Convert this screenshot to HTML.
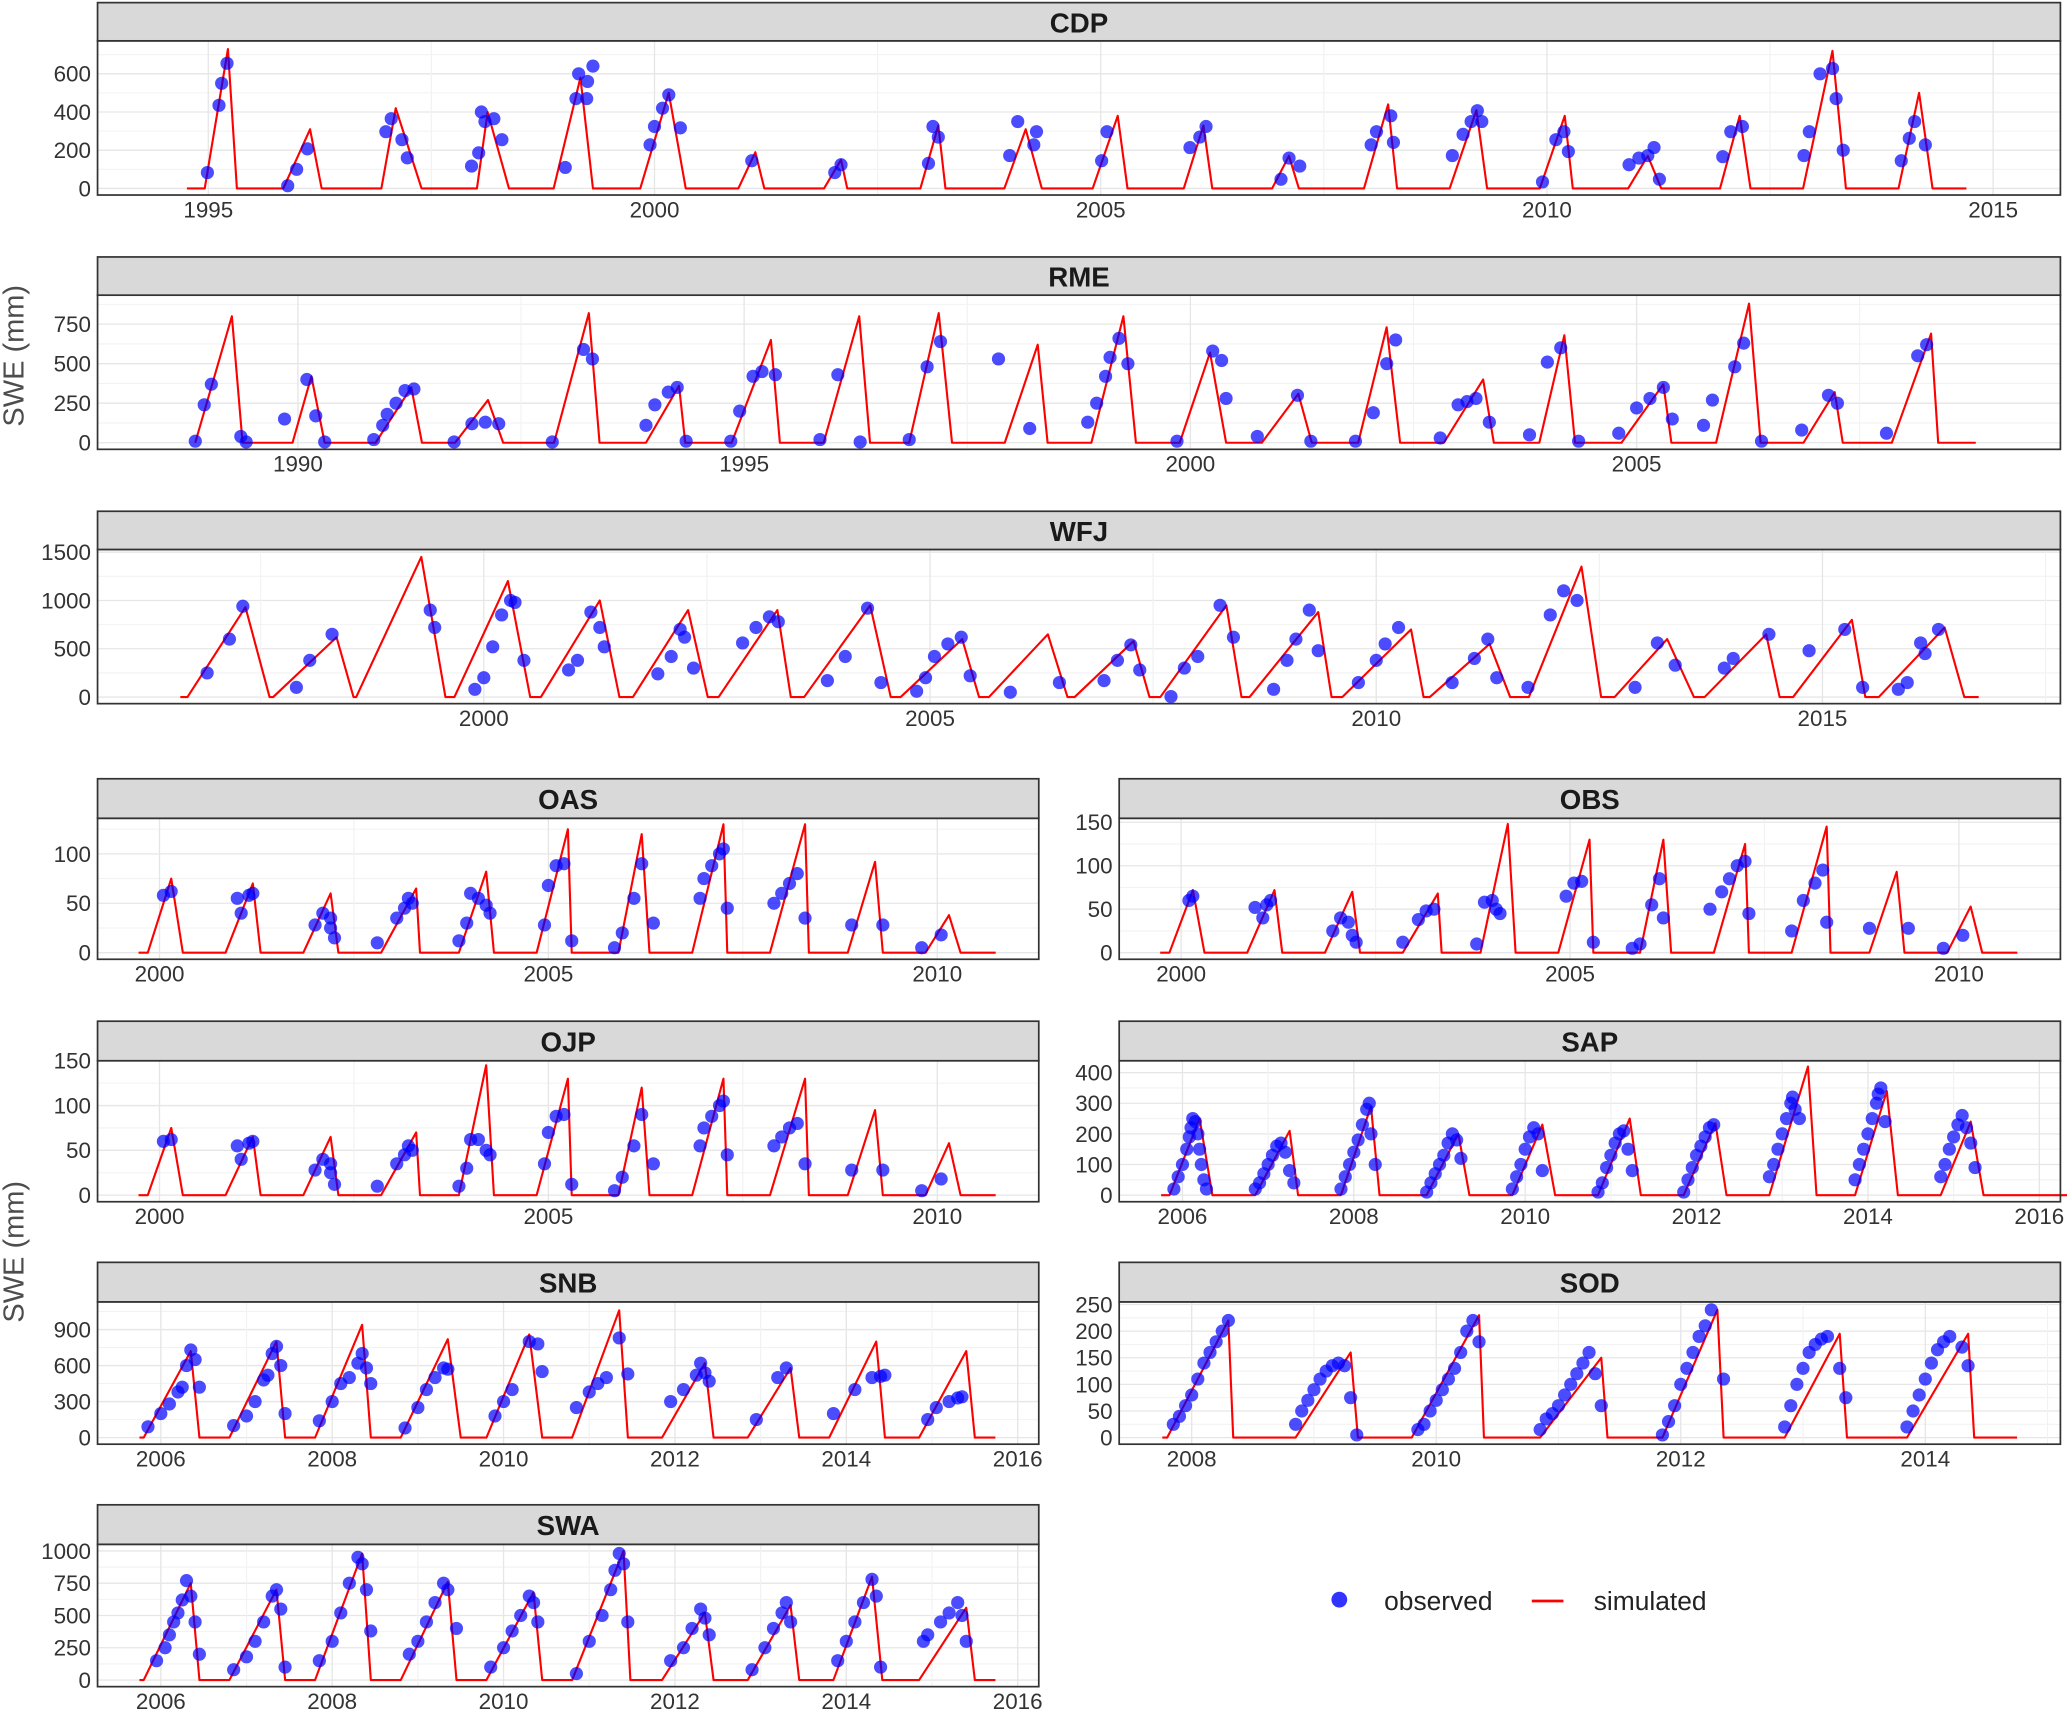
<!DOCTYPE html>
<html><head><meta charset="utf-8">
<style>
html,body{margin:0;padding:0;background:#fff;}
svg{display:block;font-family:"Liberation Sans",Arial,sans-serif;}
</style></head>
<body>
<svg id="chart" width="2067" height="1713" viewBox="0 0 1568 1300" preserveAspectRatio="none" xmlns="http://www.w3.org/2000/svg">
<text x="0" y="0" transform="translate(18,270) rotate(-90)" text-anchor="middle" font-size="22" fill="#4d4d4d">SWE (mm)</text>
<text x="0" y="0" transform="translate(18,950) rotate(-90)" text-anchor="middle" font-size="22" fill="#4d4d4d">SWE (mm)</text>
<g>
<circle cx="1016" cy="1214" r="6" fill="#0000ff" fill-opacity="0.8"/>
<text x="1050" y="1222" font-size="20" fill="#222">observed</text>
<line x1="1162" y1="1215" x2="1186" y2="1215" stroke="#ff0000" stroke-width="2"/>
<text x="1209" y="1222" font-size="20" fill="#222">simulated</text>
</g>
</svg>
<script>
// ---------- DATA ----------
// season knots: [startYear, peakYear, peakSWE, endYear]
const cdpSim=[[1994.96,1995.22,730,1995.32],[1995.84,1996.14,310,1996.27],[1996.94,1997.10,420,1997.39],[1998.01,1998.13,400,1998.37],[1998.87,1999.17,580,1999.31],[1999.84,2000.16,500,2000.35],[2000.94,2001.13,190,2001.23],[2001.90,2002.09,150,2002.16],[2002.98,2003.18,330,2003.26],[2003.92,2004.16,310,2004.34],[2004.91,2005.19,380,2005.30],[2005.93,2006.15,330,2006.25],[2006.92,2007.11,170,2007.22],[2007.95,2008.22,440,2008.32],[2008.91,2009.21,410,2009.33],[2009.92,2010.20,380,2010.29],[2010.91,2011.13,170,2011.28],[2011.94,2012.16,380,2012.28],[2012.87,2013.20,720,2013.35],[2013.94,2014.17,500,2014.32]];
const cdpObs=[[1994.99,83],[1995.12,435],[1995.15,550],[1995.21,655],[1995.89,14],[1995.99,100],[1996.11,207],[1996.99,297],[1997.05,365],[1997.17,255],[1997.23,160],[1997.95,117],[1998.03,186],[1998.06,400],[1998.1,350],[1998.2,365],[1998.29,255],[1999.0,110],[1999.12,470],[1999.15,600],[1999.24,470],[1999.25,560],[1999.31,640],[1999.95,228],[2000.0,324],[2000.09,420],[2000.16,490],[2000.29,317],[2001.09,145],[2002.02,83],[2002.09,124],[2003.07,131],[2003.12,324],[2003.18,269],[2003.98,172],[2004.07,350],[2004.25,228],[2004.28,297],[2005.01,145],[2005.07,297],[2006.0,214],[2006.11,269],[2006.18,324],[2007.02,48],[2007.11,159],[2007.23,117],[2008.03,228],[2008.09,297],[2008.25,380],[2008.28,241],[2008.94,172],[2009.06,283],[2009.15,350],[2009.22,407],[2009.27,350],[2009.95,34],[2010.1,255],[2010.19,297],[2010.24,193],[2010.92,124],[2011.03,159],[2011.13,172],[2011.2,214],[2011.26,48],[2011.97,166],[2012.06,297],[2012.19,324],[2012.88,172],[2012.94,297],[2013.06,600],[2013.2,628],[2013.24,470],[2013.32,200],[2013.97,145],[2014.06,262],[2014.12,350],[2014.24,228]];
const cdpRange=[1994.76,2014.7];

const rmeSim=[[1988.85,1989.26,800,1989.38],[1989.94,1990.15,420,1990.3],[1990.87,1991.27,350,1991.39],[1991.76,1992.13,270,1992.3],[1992.87,1993.26,820,1993.38],[1993.9,1994.27,360,1994.34],[1994.86,1995.3,650,1995.4],[1995.89,1996.29,800,1996.41],[1996.85,1997.18,820,1997.33],[1997.92,1998.29,620,1998.4],[1998.89,1999.25,800,1999.39],[1999.88,2000.22,570,2000.4],[2000.8,2001.21,310,2001.36],[2001.88,2002.2,730,2002.35],[2002.84,2003.28,400,2003.4],[2003.91,2004.19,680,2004.31],[2004.83,2005.3,370,2005.39],[2005.89,2006.26,880,2006.39],[2006.87,2007.22,320,2007.31],[2007.86,2008.3,690,2008.38]];
const rmeObs=[[1988.85,10],[1988.95,240],[1989.03,370],[1989.36,40],[1989.42,5],[1989.85,150],[1990.1,400],[1990.2,170],[1990.3,5],[1990.85,20],[1990.95,110],[1991.0,180],[1991.1,250],[1991.2,330],[1991.3,340],[1991.75,5],[1991.95,120],[1992.1,130],[1992.25,120],[1992.85,5],[1993.2,590],[1993.3,530],[1993.9,110],[1994.0,240],[1994.15,320],[1994.25,350],[1994.35,10],[1994.85,10],[1994.95,200],[1995.1,420],[1995.2,450],[1995.35,430],[1995.85,20],[1996.05,430],[1996.3,5],[1996.85,20],[1997.05,480],[1997.2,640],[1997.85,530],[1998.2,90],[1998.85,130],[1998.95,250],[1999.05,420],[1999.1,540],[1999.2,660],[1999.3,500],[1999.85,10],[2000.25,580],[2000.35,520],[2000.4,280],[2000.75,40],[2001.2,300],[2001.35,10],[2001.85,10],[2002.05,190],[2002.2,500],[2002.3,650],[2002.8,30],[2003.0,240],[2003.1,260],[2003.2,280],[2003.35,130],[2003.8,50],[2004.0,510],[2004.15,600],[2004.35,10],[2004.8,60],[2005.0,220],[2005.15,280],[2005.3,350],[2005.4,150],[2005.75,110],[2005.85,270],[2006.1,480],[2006.2,630],[2006.4,10],[2006.85,80],[2007.15,300],[2007.25,250],[2007.8,60],[2008.15,550],[2008.25,620]];
const rmeRange=[1988.85,2008.8];

const wfjSim=[[1996.68,1997.33,930,1997.6],[1997.64,1998.35,620,1998.54],[1998.57,1999.3,1450,1999.57],[1999.67,2000.27,1200,2000.52],[2000.64,2001.3,1000,2001.52],[2001.67,2002.29,900,2002.51],[2002.63,2003.29,900,2003.44],[2003.59,2004.33,950,2004.56],[2004.67,2005.36,600,2005.55],[2005.66,2006.32,650,2006.54],[2006.62,2007.28,580,2007.46],[2007.58,2008.32,950,2008.49],[2008.58,2009.35,880,2009.5],[2009.62,2010.39,700,2010.53],[2010.6,2011.27,550,2011.5],[2011.71,2012.3,1350,2012.52],[2012.67,2013.26,600,2013.56],[2013.68,2014.37,650,2014.52],[2014.67,2015.33,800,2015.48],[2015.63,2016.37,720,2016.59]];
const wfjObs=[[1996.9,250],[1997.15,600],[1997.3,940],[1997.9,100],[1998.05,380],[1998.3,650],[1999.4,900],[1999.45,720],[1999.9,80],[2000.0,200],[2000.1,520],[2000.2,850],[2000.3,1000],[2000.35,980],[2000.45,380],[2000.95,280],[2001.05,380],[2001.2,880],[2001.3,720],[2001.35,520],[2001.95,240],[2002.1,420],[2002.2,700],[2002.25,620],[2002.35,300],[2002.9,560],[2003.05,720],[2003.2,830],[2003.3,780],[2003.85,170],[2004.05,420],[2004.3,920],[2004.45,150],[2004.85,60],[2004.95,200],[2005.05,420],[2005.2,550],[2005.35,620],[2005.45,220],[2005.9,50],[2006.45,150],[2006.95,170],[2007.1,380],[2007.25,540],[2007.35,280],[2007.7,5],[2007.85,300],[2008.0,420],[2008.25,950],[2008.4,620],[2008.85,80],[2009.0,380],[2009.1,600],[2009.25,900],[2009.35,480],[2009.8,150],[2010.0,380],[2010.1,550],[2010.25,720],[2010.85,150],[2011.1,400],[2011.25,600],[2011.35,200],[2011.7,100],[2011.95,850],[2012.1,1100],[2012.25,1000],[2012.9,100],[2013.15,560],[2013.35,330],[2013.9,300],[2014.0,400],[2014.4,650],[2014.85,480],[2015.25,700],[2015.45,100],[2015.85,80],[2015.95,150],[2016.1,560],[2016.15,450],[2016.3,700]];
const wfjRange=[1996.6,2016.75];

const oasSim=[[1999.85,2000.15,75,2000.3],[2000.85,2001.2,70,2001.3],[2001.85,2002.2,60,2002.3],[2002.85,2003.3,65,2003.35],[2003.85,2004.2,82,2004.3],[2004.85,2005.25,125,2005.3],[2005.9,2006.2,120,2006.3],[2006.85,2007.25,130,2007.3],[2007.85,2008.3,130,2008.35],[2008.85,2009.2,92,2009.3],[2009.85,2010.15,38,2010.3]];
const oasObs=[[2000.05,58],[2000.15,62],[2001.0,55],[2001.05,40],[2001.15,58],[2001.2,60],[2002.0,28],[2002.1,40],[2002.2,35],[2002.2,25],[2002.25,15],[2002.8,10],[2003.05,35],[2003.15,45],[2003.2,55],[2003.25,50],[2003.85,12],[2003.95,30],[2004.0,60],[2004.1,55],[2004.2,48],[2004.25,40],[2004.95,28],[2005.0,68],[2005.1,88],[2005.2,90],[2005.3,12],[2005.85,5],[2005.95,20],[2006.1,55],[2006.2,90],[2006.35,30],[2006.95,55],[2007.0,75],[2007.1,88],[2007.2,100],[2007.25,105],[2007.3,45],[2007.9,50],[2008.0,60],[2008.1,70],[2008.2,80],[2008.3,35],[2008.9,28],[2009.3,28],[2009.8,5],[2010.05,18]];
const oasRange=[1999.73,2010.75];

const obsSim=[[1999.85,2000.15,72,2000.3],[2000.85,2001.2,72,2001.3],[2001.85,2002.2,70,2002.3],[2002.85,2003.3,68,2003.35],[2003.85,2004.2,148,2004.3],[2004.85,2005.25,130,2005.3],[2005.9,2006.2,130,2006.3],[2006.85,2007.25,125,2007.3],[2007.85,2008.3,145,2008.35],[2008.85,2009.2,93,2009.3],[2009.85,2010.15,53,2010.3]];
const obsObs=[[2000.1,60],[2000.15,65],[2000.95,52],[2001.05,40],[2001.1,55],[2001.15,60],[2001.95,25],[2002.05,40],[2002.15,35],[2002.2,20],[2002.25,12],[2002.85,12],[2003.05,38],[2003.15,48],[2003.25,50],[2003.8,10],[2003.9,58],[2004.0,60],[2004.05,50],[2004.1,45],[2004.95,65],[2005.05,80],[2005.15,82],[2005.3,12],[2005.8,5],[2005.9,10],[2006.05,55],[2006.15,85],[2006.2,40],[2006.8,50],[2006.95,70],[2007.05,85],[2007.15,100],[2007.25,105],[2007.3,45],[2007.85,25],[2008.0,60],[2008.15,80],[2008.25,95],[2008.3,35],[2008.85,28],[2009.35,28],[2009.8,5],[2010.05,20]];
const obsRange=[1999.73,2010.75];

const ojpSim=[[1999.85,2000.15,75,2000.3],[2000.85,2001.2,65,2001.3],[2001.85,2002.2,65,2002.3],[2002.85,2003.3,70,2003.35],[2003.85,2004.2,145,2004.3],[2004.85,2005.25,130,2005.3],[2005.9,2006.2,120,2006.3],[2006.85,2007.25,130,2007.3],[2007.85,2008.3,130,2008.35],[2008.85,2009.2,95,2009.3],[2009.85,2010.15,58,2010.3]];
const ojpObs=[[2000.05,60],[2000.15,62],[2001.0,55],[2001.05,40],[2001.15,58],[2001.2,60],[2002.0,28],[2002.1,40],[2002.2,35],[2002.2,25],[2002.25,12],[2002.8,10],[2003.05,35],[2003.15,45],[2003.2,55],[2003.25,50],[2003.85,10],[2003.95,30],[2004.0,62],[2004.1,62],[2004.2,50],[2004.25,45],[2004.95,35],[2005.0,70],[2005.1,88],[2005.2,90],[2005.3,12],[2005.85,5],[2005.95,20],[2006.1,55],[2006.2,90],[2006.35,35],[2006.95,55],[2007.0,75],[2007.1,88],[2007.2,100],[2007.25,105],[2007.3,45],[2007.9,55],[2008.0,65],[2008.1,75],[2008.2,80],[2008.3,35],[2008.9,28],[2009.3,28],[2009.8,5],[2010.05,18]];
const ojpRange=[1999.73,2010.75];

const sapSim=[[2005.85,2006.2,250,2006.35],[2006.85,2007.25,210,2007.35],[2007.85,2008.2,290,2008.3],[2008.85,2009.22,200,2009.35],[2009.85,2010.2,230,2010.35],[2010.85,2011.22,250,2011.35],[2011.85,2012.22,235,2012.35],[2012.85,2013.3,420,2013.4],[2013.85,2014.22,340,2014.35],[2014.85,2015.2,240,2015.35]];
const sapObs=[[2005.9,20],[2005.95,60],[2006.0,100],[2006.05,150],[2006.08,190],[2006.1,220],[2006.12,250],[2006.15,240],[2006.18,200],[2006.2,150],[2006.22,100],[2006.25,50],[2006.28,20],[2006.85,20],[2006.9,40],[2006.95,70],[2007.0,100],[2007.05,130],[2007.1,160],[2007.15,170],[2007.2,140],[2007.25,80],[2007.3,40],[2007.85,20],[2007.9,60],[2007.95,100],[2008.0,140],[2008.05,180],[2008.1,230],[2008.15,280],[2008.18,300],[2008.2,200],[2008.25,100],[2008.85,10],[2008.9,40],[2008.95,70],[2009.0,100],[2009.05,130],[2009.1,170],[2009.15,200],[2009.2,180],[2009.25,120],[2009.85,20],[2009.9,60],[2009.95,100],[2010.0,150],[2010.05,190],[2010.1,220],[2010.15,200],[2010.2,80],[2010.85,10],[2010.9,40],[2010.95,90],[2011.0,130],[2011.05,170],[2011.1,200],[2011.15,210],[2011.2,150],[2011.25,80],[2011.85,10],[2011.9,50],[2011.95,90],[2012.0,130],[2012.05,160],[2012.1,190],[2012.15,220],[2012.2,230],[2012.85,60],[2012.9,100],[2012.95,150],[2013.0,200],[2013.05,250],[2013.1,300],[2013.12,320],[2013.15,280],[2013.2,250],[2013.85,50],[2013.9,100],[2013.95,150],[2014.0,200],[2014.05,250],[2014.1,300],[2014.12,330],[2014.15,350],[2014.2,240],[2014.85,60],[2014.9,100],[2014.95,150],[2015.0,190],[2015.05,230],[2015.1,260],[2015.15,220],[2015.2,170],[2015.25,90]];
const sapRange=[2005.75,2016.7];

const snbSim=[[2005.8,2006.35,720,2006.45],[2006.8,2007.35,800,2007.45],[2007.8,2008.35,940,2008.45],[2008.8,2009.35,820,2009.5],[2009.8,2010.3,860,2010.45],[2010.8,2011.35,1060,2011.45],[2011.85,2012.35,620,2012.45],[2012.85,2013.35,580,2013.45],[2013.8,2014.35,800,2014.45],[2014.85,2015.4,720,2015.5]];
const snbObs=[[2005.85,90],[2006.0,200],[2006.1,280],[2006.2,380],[2006.25,420],[2006.3,600],[2006.35,730],[2006.4,650],[2006.45,420],[2006.85,100],[2007.0,180],[2007.1,300],[2007.2,480],[2007.25,520],[2007.3,700],[2007.35,760],[2007.4,600],[2007.45,200],[2007.85,140],[2008.0,300],[2008.1,450],[2008.2,500],[2008.3,620],[2008.35,700],[2008.4,580],[2008.45,450],[2008.85,80],[2009.0,250],[2009.1,400],[2009.2,500],[2009.3,580],[2009.35,570],[2009.9,180],[2010.0,300],[2010.1,400],[2010.3,800],[2010.4,780],[2010.45,550],[2010.85,250],[2011.0,380],[2011.1,450],[2011.2,500],[2011.35,830],[2011.45,530],[2011.95,300],[2012.1,400],[2012.25,520],[2012.3,620],[2012.35,540],[2012.4,470],[2012.95,150],[2013.2,500],[2013.3,580],[2013.85,200],[2014.1,400],[2014.3,500],[2014.4,510],[2014.45,520],[2014.95,150],[2015.05,250],[2015.2,300],[2015.3,330],[2015.35,340]];
const snbRange=[2005.75,2015.74];

const sodSim=[[2007.8,2008.3,220,2008.34],[2008.85,2009.3,160,2009.36],[2009.8,2010.35,230,2010.39],[2010.85,2011.35,150,2011.4],[2011.85,2012.3,240,2012.35],[2012.85,2013.3,195,2013.36],[2013.85,2014.35,195,2014.4]];
const sodObs=[[2007.85,25],[2007.9,40],[2007.95,60],[2008.0,80],[2008.05,110],[2008.1,140],[2008.15,160],[2008.2,180],[2008.25,200],[2008.3,220],[2008.85,25],[2008.9,50],[2008.95,70],[2009.0,90],[2009.05,110],[2009.1,125],[2009.15,135],[2009.2,140],[2009.25,135],[2009.3,75],[2009.35,5],[2009.85,15],[2009.9,25],[2009.95,50],[2010.0,70],[2010.05,90],[2010.1,110],[2010.15,130],[2010.2,160],[2010.25,200],[2010.3,220],[2010.35,180],[2010.85,15],[2010.9,35],[2010.95,45],[2011.0,60],[2011.05,80],[2011.1,100],[2011.15,120],[2011.2,140],[2011.25,160],[2011.3,120],[2011.35,60],[2011.85,5],[2011.9,30],[2011.95,60],[2012.0,100],[2012.05,130],[2012.1,160],[2012.15,190],[2012.2,210],[2012.25,240],[2012.35,110],[2012.85,20],[2012.9,60],[2012.95,100],[2013.0,130],[2013.05,160],[2013.1,175],[2013.15,185],[2013.2,190],[2013.3,130],[2013.35,75],[2013.85,20],[2013.9,50],[2013.95,80],[2014.0,110],[2014.05,140],[2014.1,165],[2014.15,180],[2014.2,190],[2014.3,170],[2014.35,135]];
const sodRange=[2007.76,2014.75];

const swaSim=[[2005.8,2006.35,750,2006.45],[2006.8,2007.35,700,2007.45],[2007.8,2008.35,980,2008.45],[2008.8,2009.35,760,2009.45],[2009.8,2010.35,680,2010.45],[2010.8,2011.4,1000,2011.48],[2011.85,2012.35,520,2012.45],[2012.85,2013.35,580,2013.45],[2013.85,2014.3,800,2014.42],[2014.85,2015.4,560,2015.5]];
const swaObs=[[2005.95,150],[2006.05,250],[2006.1,350],[2006.15,450],[2006.2,520],[2006.25,620],[2006.3,770],[2006.35,650],[2006.4,450],[2006.45,200],[2006.85,80],[2007.0,180],[2007.1,300],[2007.2,450],[2007.3,650],[2007.35,700],[2007.4,550],[2007.45,100],[2007.85,150],[2008.0,300],[2008.1,520],[2008.2,750],[2008.3,950],[2008.35,900],[2008.4,700],[2008.45,380],[2008.9,200],[2009.0,300],[2009.1,450],[2009.2,600],[2009.3,750],[2009.35,700],[2009.45,400],[2009.85,100],[2010.0,250],[2010.1,380],[2010.2,500],[2010.3,650],[2010.35,600],[2010.4,450],[2010.85,50],[2011.0,300],[2011.15,500],[2011.25,700],[2011.3,850],[2011.35,980],[2011.4,900],[2011.45,450],[2011.95,150],[2012.1,250],[2012.2,400],[2012.3,550],[2012.35,480],[2012.4,350],[2012.9,80],[2013.05,250],[2013.15,400],[2013.25,520],[2013.3,600],[2013.35,450],[2013.9,150],[2014.0,300],[2014.1,450],[2014.2,600],[2014.3,780],[2014.35,650],[2014.4,100],[2014.9,300],[2014.95,350],[2015.1,450],[2015.2,520],[2015.3,600],[2015.35,500],[2015.4,300]];
const swaRange=[2005.75,2015.74];

const cdpYTicks=[0,200,400,600], cdpXTicks=[1995,2000,2005,2010,2015];
const rmeYTicks=[0,250,500,750], rmeXTicks=[1990,1995,2000,2005];
const wfjYTicks=[0,500,1000,1500], wfjXTicks=[2000,2005,2010,2015];
const oasYTicks=[0,50,100], oasXTicks=[2000,2005,2010];
const obsYTicks=[0,50,100,150], obsXTicks=[2000,2005,2010];
const ojpYTicks=[0,50,100,150], ojpXTicks=[2000,2005,2010];
const sapYTicks=[0,100,200,300,400], sapXTicks=[2006,2008,2010,2012,2014,2016];
const snbYTicks=[0,300,600,900], snbXTicks=[2006,2008,2010,2012,2014,2016];
const sodYTicks=[0,50,100,150,200,250], sodXTicks=[2008,2010,2012,2014];
const swaYTicks=[0,250,500,750,1000], swaXTicks=[2006,2008,2010,2012,2014,2016];

// ---------- LAYOUT ----------
const panels=[
 {name:'CDP',sim:cdpSim,obs:cdpObs,range:cdpRange,yt:cdpYTicks,xt:cdpXTicks,L:{x0:74,x1:1563,st:2,pt:31,pb:148,xRef:1995,xPx:158,ppy:67.7,yZ:143,ppu:0.145}},
 {name:'RME',sim:rmeSim,obs:rmeObs,range:rmeRange,yt:rmeYTicks,xt:rmeXTicks,L:{x0:74,x1:1563,st:195,pt:224,pb:341,xRef:1990,xPx:226,ppy:67.7,yZ:336,ppu:0.12}},
 {name:'WFJ',sim:wfjSim,obs:wfjObs,range:wfjRange,yt:wfjYTicks,xt:wfjXTicks,L:{x0:74,x1:1563,st:388,pt:417,pb:534,xRef:2000,xPx:367,ppy:67.7,yZ:529,ppu:0.0733}},
 {name:'OAS',sim:oasSim,obs:oasObs,range:oasRange,yt:oasYTicks,xt:oasXTicks,L:{x0:74,x1:788,st:591,pt:621,pb:728,xRef:2000,xPx:121,ppy:59,yZ:723,ppu:0.75}},
 {name:'OBS',sim:obsSim,obs:obsObs,range:obsRange,yt:obsYTicks,xt:obsXTicks,L:{x0:849,x1:1563,st:591,pt:621,pb:728,xRef:2000,xPx:896,ppy:59,yZ:723,ppu:0.66}},
 {name:'OJP',sim:ojpSim,obs:ojpObs,range:ojpRange,yt:ojpYTicks,xt:ojpXTicks,L:{x0:74,x1:788,st:775,pt:805,pb:912,xRef:2000,xPx:121,ppy:59,yZ:907,ppu:0.68}},
 {name:'SAP',sim:sapSim,obs:sapObs,range:sapRange,yt:sapYTicks,xt:sapXTicks,L:{x0:849,x1:1563,st:775,pt:805,pb:912,xRef:2006,xPx:897,ppy:65,yZ:907,ppu:0.2325}},
 {name:'SNB',sim:snbSim,obs:snbObs,range:snbRange,yt:snbYTicks,xt:snbXTicks,L:{x0:74,x1:788,st:958,pt:988,pb:1096,xRef:2006,xPx:122,ppy:65,yZ:1091,ppu:0.0911}},
 {name:'SOD',sim:sodSim,obs:sodObs,range:sodRange,yt:sodYTicks,xt:sodXTicks,L:{x0:849,x1:1563,st:958,pt:988,pb:1096,xRef:2008,xPx:904,ppy:92.75,yZ:1091,ppu:0.404}},
 {name:'SWA',sim:swaSim,obs:swaObs,range:swaRange,yt:swaYTicks,xt:swaXTicks,L:{x0:74,x1:788,st:1142,pt:1172,pb:1280,xRef:2006,xPx:122,ppy:65,yZ:1275,ppu:0.098}}
];

const NS='http://www.w3.org/2000/svg';
const svg=document.getElementById('chart');
function mk(tag,attrs,parent){const e=document.createElementNS(NS,tag);for(const k in attrs)e.setAttribute(k,attrs[k]);(parent||svg).appendChild(e);return e;}

panels.forEach(p=>{
  const L=p.L, key=p.name.toLowerCase();
  const X=y=>L.xPx+(y-L.xRef)*L.ppy;
  const Y=v=>L.yZ-v*L.ppu;
  const g=mk('g',{});
  
  
  // plot bg
  const bg=mk('rect',{x:L.x0,y:L.pt,width:L.x1-L.x0,height:L.pb-L.pt,fill:'#fff'},g);
  
  
  // grid
  const yStep=p.yt[1]-p.yt[0], xStep=p.xt[1]-p.xt[0];
  for(let i=0;i<p.yt.length;i++){
    const v=p.yt[i];
    const gl=mk('line',{x1:L.x0,x2:L.x1,y1:Y(v),y2:Y(v),stroke:'#e6e6e6','stroke-width':1},g);
    
    
    const mv=v+yStep/2;
    if(Y(mv)>L.pt){const ml=mk('line',{x1:L.x0,x2:L.x1,y1:Y(mv),y2:Y(mv),stroke:'#f2f2f2','stroke-width':0.8},g);
      
      }
    const t=mk('text',{x:L.x0-5,y:Y(v)+6,'text-anchor':'end','font-size':17,fill:'#333'},g);
    t.textContent=v;
    
    
  }
  for(let i=0;i<p.xt.length;i++){
    const yr=p.xt[i];
    const gl=mk('line',{x1:X(yr),x2:X(yr),y1:L.pt,y2:L.pb,stroke:'#e6e6e6','stroke-width':1},g);
    
    
    [yr-xStep/2,yr+xStep/2].forEach(m=>{const xm=X(m);if(xm>L.x0&&xm<L.x1){const ml=mk('line',{x1:xm,x2:xm,y1:L.pt,y2:L.pb,stroke:'#f2f2f2','stroke-width':0.8},g);
      
      }});
    const t=mk('text',{x:X(yr),y:L.pb+17,'text-anchor':'middle','font-size':17,fill:'#333'},g);
    t.textContent=yr;
    
    
  }
  // simulated line
  const pts=[[p.range[0],0]];
  p.sim.forEach(s=>{pts.push([s[0],0],[s[1],s[2]],[s[3],0]);});
  pts.push([p.range[1],0]);
  const d=pts.map((q,i)=>(i?'L':'M')+X(q[0]).toFixed(1)+','+Y(q[1]).toFixed(1)).join('');
  const line=mk('path',{d:d,fill:'none',stroke:'#ff0000','stroke-width':1.6,'stroke-linejoin':'round'},g);
  
  
  // observed points
  p.obs.forEach(o=>{
    const c=mk('circle',{cx:X(o[0]),cy:Y(o[1]),r:5,fill:'#0000ff','fill-opacity':0.7},g);
    
    
  });
  // frame
  const fr=mk('rect',{x:L.x0,y:L.pt,width:L.x1-L.x0,height:L.pb-L.pt,fill:'none',stroke:'#333','stroke-width':1.3},g);
  
  
  // strip
  const st=mk('rect',{x:L.x0,y:L.st,width:L.x1-L.x0,height:L.pt-L.st,fill:'#d9d9d9',stroke:'#333','stroke-width':1.3},g);
  
  
  const tt=mk('text',{x:(L.x0+L.x1)/2,y:(L.st+L.pt)/2+8,'text-anchor':'middle','font-size':21,'font-weight':'bold',fill:'#1a1a1a'},g);
  tt.textContent=p.name;
  
  
});
</script>
</body></html>
